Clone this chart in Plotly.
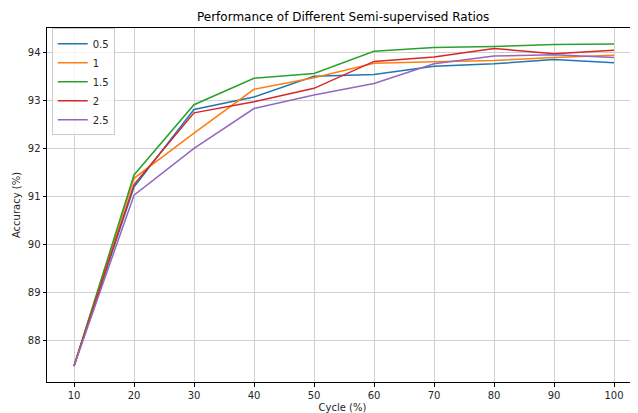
import plotly.graph_objects as go

cycles = [10, 20, 30, 40, 50, 60, 70, 80, 90, 100]
acc_05 = [87.48, 91.20, 92.81, 93.07, 93.50, 93.54, 93.71, 93.76, 93.85, 93.78]
acc_1 = [87.48, 91.38, 92.32, 93.23, 93.47, 93.77, 93.80, 93.83, 93.89, 93.94]
acc_15 = [87.48, 91.45, 92.91, 93.46, 93.56, 94.02, 94.10, 94.12, 94.16, 94.17]
acc_2 = [87.48, 91.25, 92.74, 92.97, 93.25, 93.81, 93.90, 94.08, 93.97, 94.04]
acc_25 = [87.48, 91.03, 92.00, 92.83, 93.11, 93.35, 93.76, 93.92, 93.95, 93.89]
series_names = ["0.5", "1", "1.5", "2", "2.5"]
series_vals = [acc_05, acc_1, acc_15, acc_2, acc_25]
colors = ["#1f77b4", "#ff7f0e", "#2ca02c", "#d62728", "#9467bd"]
x_ticks = [10, 20, 30, 40, 50, 60, 70, 80, 90, 100]
y_ticks = [88, 89, 90, 91, 92, 93, 94]

fig = go.Figure()
for name, vals, c in zip(series_names, series_vals, colors):
    fig.add_trace(go.Scatter(x=cycles, y=vals, mode="lines", name=name,
                             line=dict(color=c, width=1.5)))

font = "DejaVu Sans, sans-serif"
fig.update_layout(
    width=630, height=405,
    margin=dict(l=39, r=0, t=20, b=31),
    paper_bgcolor="white", plot_bgcolor="white",
    font=dict(family=font, size=10, color="#262626"),
    title=dict(text="Performance of Different Semi-supervised Ratios", x=0.532, xanchor="center",
               y=0.978, yanchor="middle", font=dict(size=12, color="black")),
    legend=dict(x=0.008, y=0.999, xanchor="left", yanchor="top", bgcolor="rgba(255,255,255,0.8)",
                bordercolor="#cccccc", borderwidth=1, font=dict(size=10, color="#262626"),
                tracegroupgap=0, itemwidth=30),
    showlegend=True,
)
fig.update_xaxes(range=[5.5, 104.0], tickvals=x_ticks, showgrid=True, gridcolor="#d0d0d0", gridwidth=1,
                 showline=True, linecolor="black", linewidth=1, mirror=True, automargin=False,
                 ticks="outside", ticklen=3.5, tickcolor="black", zeroline=False,
                 title=dict(text="Cycle (%)", standoff=9, font=dict(size=10)))
fig.update_yaxes(range=[87.146, 94.504], tickvals=y_ticks, showgrid=True, gridcolor="#d0d0d0", gridwidth=1,
                 showline=True, linecolor="black", linewidth=1, mirror=True, automargin=False,
                 ticks="outside", ticklen=3.5, tickcolor="black", zeroline=False,
                 title=dict(text="Accuracy (%)", standoff=5, font=dict(size=10)))

fig.write_html("out.html")
